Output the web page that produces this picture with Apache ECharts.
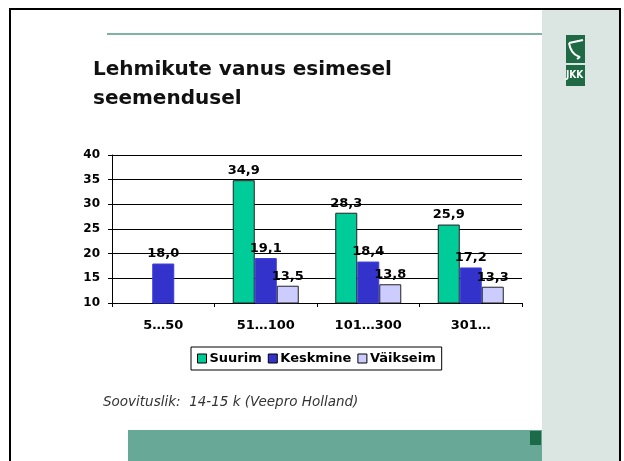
<!DOCTYPE html>
<html><head><meta charset="utf-8">
<script src="https://cdn.jsdelivr.net/npm/echarts@6/dist/echarts.min.js"></script>
<style>html,body{margin:0;padding:0;background:#fff}#c{width:624px;height:461px}</style>
</head><body><div id="c"></div>
<script>
const categories = ['5…50', '51…100', '101…300', '301…'];
const suurim = [null, 34.9, 28.3, 25.9];
const keskmine = [18.0, 19.1, 18.4, 17.2];
const vaikseim = [null, 13.5, 13.8, 13.3];
const seriesNames = ['Suurim', 'Keskmine', 'Väikseim'];
const yMin = 10, yMax = 40, yStep = 5;

const font = '"DejaVu Sans", Verdana, sans-serif';
const fmt = p => p.value == null ? '' : p.value.toFixed(1).replace('.', ',');
const lbl = {show: true, position: 'top', distance: 3, formatter: fmt, color: '#000', fontWeight: 'bold', fontSize: 13, fontFamily: font};

const chart = echarts.init(document.getElementById('c'), null, {renderer: 'canvas'});
chart.setOption({
  backgroundColor: '#fff',
  animation: false,
  graphic: [
    {type: 'rect', shape: {x: 542, y: 9, width: 78, height: 452}, style: {fill: '#dbe5e1'}, z: 0},
    {type: 'rect', shape: {x: 128, y: 430, width: 414, height: 31}, style: {fill: '#68a896'}, z: 0},
    {type: 'rect', shape: {x: 530, y: 431, width: 11, height: 14}, style: {fill: '#1b6a48'}, z: 1},
    {type: 'line', shape: {x1: 107, y1: 34, x2: 542, y2: 34}, style: {stroke: '#7fb2a2', lineWidth: 2}, z: 1},
    {type: 'rect', shape: {x: 10, y: 9, width: 610, height: 470}, style: {fill: 'none', stroke: '#000', lineWidth: 2}, z: 5},
    {type: 'rect', shape: {x: 566, y: 35, width: 19, height: 28}, style: {fill: '#1f6a45'}, z: 2},
    {type: 'bezierCurve', shape: {x1: 569, y1: 43, x2: 577, y2: 59, cpx1: 572, cpy1: 61, cpx2: 585, cpy2: 54}, style: {stroke: '#fff', lineWidth: 2, fill: 'none'}, z: 3},
    {type: 'line', shape: {x1: 569, y1: 43, x2: 583, y2: 40}, style: {stroke: '#fff', lineWidth: 2}, z: 3},
    {type: 'rect', shape: {x: 566, y: 65, width: 19, height: 21}, style: {fill: '#1f6a45'}, z: 2},
    {type: 'text', left: 566, top: 70, style: {text: 'JKK', width: 19, fill: '#fff', font: 'bold 10px "Liberation Sans Narrow", "DejaVu Sans Condensed", sans-serif'}, z: 3},
    {type: 'text', x: 93, y: 55, style: {text: 'Lehmikute vanus esimesel\nseemendusel', fill: '#111', font: 'bold 20px ' + font, lineHeight: 29, verticalAlign: 'top'}, z: 3},
    {type: 'text', x: 103, y: 395, style: {text: 'Soovituslik:  14-15 k (Veepro Holland)', fill: '#333', font: 'italic 13.5px ' + font}, z: 3}
  ],
  grid: {left: 112, right: 102, top: 155, bottom: 158, containLabel: false},
  legend: {
    data: seriesNames,
    left: 191, top: 347,
    itemWidth: 9, itemHeight: 9, itemGap: 6,
    icon: 'rect',
    padding: [5, 6, 5, 6],
    borderColor: '#000', borderWidth: 1,
    textStyle: {color: '#000', fontWeight: 'bold', fontSize: 13, fontFamily: font, padding: [0, 0, 0, -2]},
    itemStyle: {borderColor: '#000', borderWidth: 1}
  },
  xAxis: {
    type: 'category', data: categories,
    axisLine: {lineStyle: {color: '#000', width: 1}},
    axisTick: {show: true, length: 4, lineStyle: {color: '#000'}},
    axisLabel: {color: '#000', fontWeight: 'bold', fontSize: 13, fontFamily: font, margin: 16}
  },
  yAxis: {
    type: 'value', min: yMin, max: yMax, interval: yStep,
    axisLine: {show: true, lineStyle: {color: '#000', width: 1}},
    axisTick: {show: true, length: 4, lineStyle: {color: '#000'}},
    axisLabel: {color: '#000', fontWeight: 'bold', fontSize: 12, fontFamily: font, margin: 12},
    splitLine: {lineStyle: {color: '#000', width: 1}}
  },
  series: [
    {name: seriesNames[0], type: 'bar', data: suurim, barWidth: 22, barGap: '0%',
     itemStyle: {color: '#00cc99', borderColor: '#222', borderWidth: 1}, label: lbl},
    {name: seriesNames[1], type: 'bar', data: keskmine, barWidth: 22, barGap: '0%',
     itemStyle: {color: '#3333cc', borderColor: '#3a3ae0', borderWidth: 1}, label: lbl},
    {name: seriesNames[2], type: 'bar', data: vaikseim, barWidth: 22, barGap: '0%',
     itemStyle: {color: '#ccccff', borderColor: '#222', borderWidth: 1}, label: lbl}
  ]
});
</script></body></html>
